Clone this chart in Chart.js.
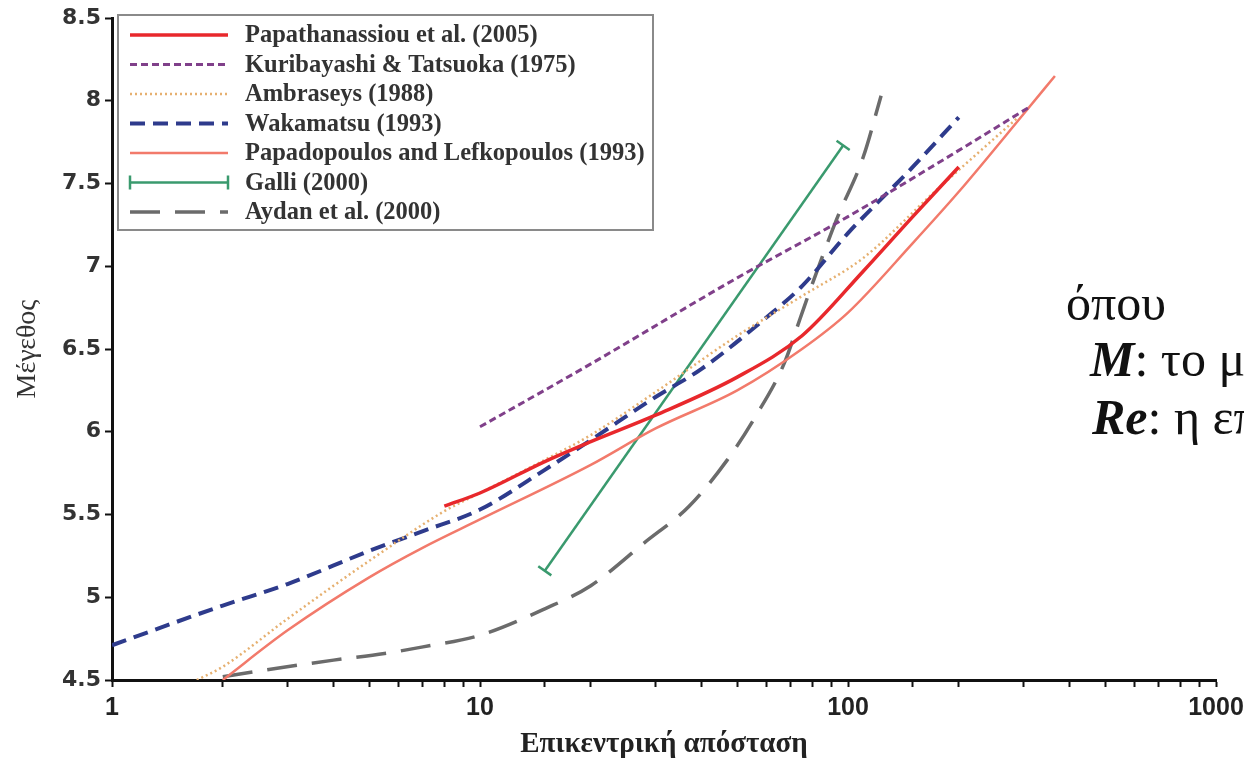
<!DOCTYPE html>
<html>
<head>
<meta charset="utf-8">
<title>Μέγεθος – Επικεντρική απόσταση</title>
<script src="https://cdn.jsdelivr.net/npm/chart.js@4"></script>
<style>
  html, body { margin: 0; padding: 0; background: #fff; overflow: hidden; }
  #wrap { position: relative; width: 1244px; height: 765px; overflow: hidden; }
  #chart { position: absolute; left: 0; top: 0; }
  .note { position: absolute; white-space: nowrap; font-family: 'Liberation Serif', serif;
          font-size: 50px; line-height: 50px; color: #111; }
</style>
</head>
<body>
<div id="wrap">
  <canvas id="chart" width="1244" height="765"></canvas>
  <div class="note" style="left:1066px;top:278px">όπου</div>
  <div class="note" style="left:1090px;top:334px"><b><i>M</i></b>: το μέγεθος</div>
  <div class="note" style="left:1092px;top:392px"><b><i>Re</i></b>: η επικεντρική απόσταση</div>
</div>
<script>
// Values (x = epicentral distance, km; y = magnitude)
const xLabels = [1, 10, 100, 1000];

const papathX = [8, 10, 15, 20, 30, 50, 75, 110, 150, 200];
const papathY = [5.55, 5.63, 5.82, 5.94, 6.1, 6.33, 6.58, 6.97, 7.3, 7.6];

const kuriX = [10, 20, 50, 100, 200, 310];
const kuriY = [6.03, 6.41, 6.93, 7.3, 7.7, 7.96];

const ambrX = [1.7, 2, 3, 5, 8, 10, 15, 20, 30, 50, 75, 110, 170, 290];
const ambrY = [4.5, 4.58, 4.87, 5.22, 5.52, 5.63, 5.83, 5.98, 6.24, 6.58, 6.82, 7.05, 7.44, 7.9];

const wakaX = [1, 2, 3, 5, 7, 10, 15, 20, 30, 40, 60, 75, 100, 150, 200];
const wakaY = [4.71, 4.95, 5.08, 5.28, 5.4, 5.53, 5.77, 5.95, 6.21, 6.38, 6.69, 6.88, 7.2, 7.6, 7.9];

const papadX = [2, 3, 5, 7, 10, 20, 30, 50, 75, 100, 150, 200, 300, 365];
const papadY = [4.5, 4.8, 5.12, 5.3, 5.47, 5.8, 6.02, 6.25, 6.5, 6.72, 7.14, 7.45, 7.92, 8.15];

const galliX = [15, 97];
const galliY = [5.16, 7.73];

const aydanX = [2, 2.6, 4, 5.5, 7, 10, 15, 20, 28, 37, 47, 56, 67, 74, 79, 93, 110, 123];
const aydanY = [4.52, 4.56, 4.62, 4.66, 4.7, 4.77, 4.93, 5.07, 5.33, 5.55, 5.83, 6.09, 6.41, 6.68, 6.86, 7.28, 7.66, 8.03];

const toPoints = (xs, ys) => xs.map((x, i) => ({ x: x, y: ys[i] }));

// the Galli end caps sit across the line
function galliCapAngle(ctx) {
    const sx = ctx.chart.scales.x, sy = ctx.chart.scales.y;
    if (!sx || !sy) return 0;
    const dx = sx.getPixelForValue(galliX[1]) - sx.getPixelForValue(galliX[0]);
    const dy = sy.getPixelForValue(galliY[1]) - sy.getPixelForValue(galliY[0]);
    return Math.atan2(dy, dx) * 180 / Math.PI + 90;
}

// boxed legend like the original figure
const legendBox = {
    id: 'legendBox',
    afterDraw(chart) {
        const ctx = chart.ctx;
        const left = chart.chartArea.left + 6;
        const top = chart.chartArea.top - 3;
        ctx.save();
        ctx.fillStyle = '#fff';
        ctx.strokeStyle = '#8a8a8a';
        ctx.lineWidth = 2;
        ctx.fillRect(left, top, 535, 215);
        ctx.strokeRect(left, top, 535, 215);
        chart.data.datasets.forEach((ds, i) => {
            const y = top + 20 + i * 29.5;
            ctx.strokeStyle = ds.borderColor;
            ctx.lineWidth = ds.borderWidth;
            ctx.setLineDash(ds.borderDash || []);
            ctx.beginPath();
            ctx.moveTo(left + 12, y);
            ctx.lineTo(left + 110, y);
            ctx.stroke();
            ctx.setLineDash([]);
            if (ds.pointStyle === 'line') {
                ctx.beginPath();
                ctx.moveTo(left + 12, y - 7); ctx.lineTo(left + 12, y + 7);
                ctx.moveTo(left + 110, y - 7); ctx.lineTo(left + 110, y + 7);
                ctx.stroke();
            }
            ctx.fillStyle = '#333';
            ctx.font = "bold 24.5px 'Liberation Serif', serif";
            ctx.textBaseline = 'middle';
            ctx.fillText(ds.label, left + 127, y + 1);
        });
        ctx.restore();
    }
};

new Chart(document.getElementById('chart'), {
    type: 'line',
    data: {
        datasets: [
            {
                label: 'Papathanassiou et al. (2005)',
                data: toPoints(papathX, papathY),
                borderColor: '#e8282c', borderWidth: 3.5
            },
            {
                label: 'Kuribayashi & Tatsuoka (1975)',
                data: toPoints(kuriX, kuriY),
                borderColor: '#80408a', borderWidth: 3, borderDash: [7, 4]
            },
            {
                label: 'Ambraseys (1988)',
                data: toPoints(ambrX, ambrY),
                borderColor: '#e6b070', borderWidth: 2.5, borderDash: [2, 3]
            },
            {
                label: 'Wakamatsu (1993)',
                data: toPoints(wakaX, wakaY),
                borderColor: '#2e3b8c', borderWidth: 4, borderDash: [15, 8]
            },
            {
                label: 'Papadopoulos and Lefkopoulos (1993)',
                data: toPoints(papadX, papadY),
                borderColor: '#f27a6b', borderWidth: 2.5
            },
            {
                label: 'Galli (2000)',
                data: toPoints(galliX, galliY),
                borderColor: '#3a9a6e', borderWidth: 2.5,
                pointStyle: 'line', pointRadius: 8, pointBorderWidth: 2.5,
                pointBorderColor: '#3a9a6e', pointRotation: galliCapAngle
            },
            {
                label: 'Aydan et al. (2000)',
                data: toPoints(aydanX, aydanY),
                borderColor: '#6b6b6b', borderWidth: 3.5, borderDash: [30, 15]
            }
        ]
    },
    options: {
        responsive: false,
        animation: false,
        layout: { padding: { top: 18, right: 28, left: 0, bottom: 0 } },
        elements: {
            line: { cubicInterpolationMode: 'monotone', fill: false },
            point: { radius: 0, hoverRadius: 0 }
        },
        scales: {
            x: {
                type: 'logarithmic',
                min: 1,
                max: 1000,
                border: { display: true, color: '#111', width: 3 },
                grid: { drawOnChartArea: false, drawTicks: true, tickLength: 7, tickWidth: 2, tickColor: '#111' },
                ticks: {
                    autoSkip: false,
                    maxRotation: 0,
                    padding: 6,
                    color: '#222',
                    font: { family: "'Liberation Sans Narrow', 'Liberation Sans', sans-serif", size: 25, weight: 'bold' },
                    callback: v => xLabels.includes(v) ? String(v) : ''
                },
                title: {
                    display: true,
                    text: 'Επικεντρική απόσταση',
                    color: '#222',
                    font: { family: "'Liberation Serif', serif", size: 29, weight: 'bold' },
                    padding: { top: 0, bottom: 3 }
                },
                afterFit: s => { s.height = 85; s.paddingRight = 0; }
            },
            y: {
                min: 4.5,
                max: 8.5,
                border: { display: true, color: '#111', width: 3 },
                grid: { drawOnChartArea: false, drawTicks: true, tickLength: 7, tickWidth: 2, tickColor: '#111' },
                ticks: {
                    stepSize: 0.5,
                    padding: 4,
                    color: '#333',
                    font: { family: "'DejaVu Sans', sans-serif", size: 22, weight: 'bold' },
                    callback: v => Number.isInteger(v) ? String(v) : v.toFixed(1)
                },
                title: {
                    display: true,
                    text: 'Μέγεθος',
                    color: '#333',
                    font: { family: "'Liberation Serif', serif", size: 28 },
                    padding: { top: 11, bottom: 0 }
                },
                afterFit: s => { s.width = 112; }
            }
        },
        plugins: {
            legend: { display: false },
            tooltip: { enabled: false }
        }
    },
    plugins: [legendBox]
});
</script>
</body>
</html>
